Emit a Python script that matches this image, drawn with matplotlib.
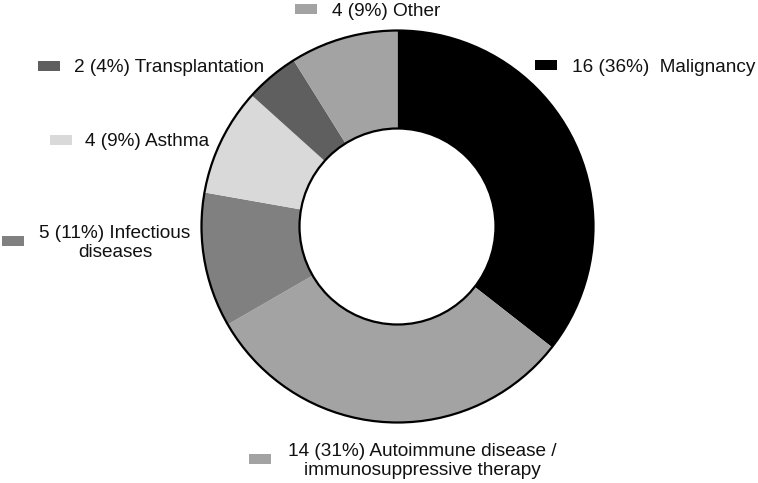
import matplotlib.pyplot as plt
from matplotlib.patches import Circle, Rectangle

plt.rcParams['font.family'] = ['Liberation Sans', 'DejaVu Sans']

# data (clockwise from 12 o'clock)
counts = [16, 14, 5, 4, 2, 4]
pcts = [36, 31, 11, 9, 4, 9]
names = ['Malignancy', 'Autoimmune disease /\nimmunosuppressive therapy',
         'Infectious\ndiseases', 'Asthma', 'Transplantation', 'Other']
colors = ['#000000', '#a3a3a3', '#808080', '#d9d9d9', '#5f5f5f', '#a3a3a3']

W, H = 758, 483

# label layout in pixel coords: square left x, square centre y, text x, text y, ha
layout = [
    (535, 65, 572, 67, 'left'),
    (249, 459, 422, 461, 'center'),
    (2, 241, 115, 243, 'center'),
    (50, 140, 85, 142, 'left'),
    (38, 66, 74, 68, 'left'),
    (295, 9, 332, 11, 'left'),
]


def main():
    fig = plt.figure(figsize=(W / 100, H / 100), dpi=100)
    ax = fig.add_axes([0, 0, 1, 1])

    cx, cy, r = 397.5, H - 226.5, 196
    ring = 0.5
    ax.pie(counts, colors=colors, startangle=90, counterclock=False,
           center=(cx, cy), radius=r,
           wedgeprops=dict(width=r * ring, linewidth=0))
    ax.add_patch(Circle((cx, cy), r, fill=False, ec='black', lw=1.6))
    ax.add_patch(Circle((cx, cy), r * (1 - ring), fill=False, ec='black', lw=1.6))

    for i in range(len(counts)):
        sx, sy, tx, ty, ha = layout[i]
        ax.add_patch(Rectangle((sx, H - sy - 5), 22, 10, color=colors[i], lw=0))
        gap = '  ' if i == 0 else ' '
        txt = '%d (%d%%)%s%s' % (counts[i], pcts[i], gap, names[i])
        ax.text(tx, H - ty, txt, ha=ha, va='center', fontsize=13.7,
                linespacing=1.2, color='#111111')

    ax.set_xlim(0, W)
    ax.set_ylim(0, H)
    ax.set_aspect('equal')
    ax.axis('off')
    fig.savefig('out.png', dpi=100)


if __name__ == "__main__":
    main()
